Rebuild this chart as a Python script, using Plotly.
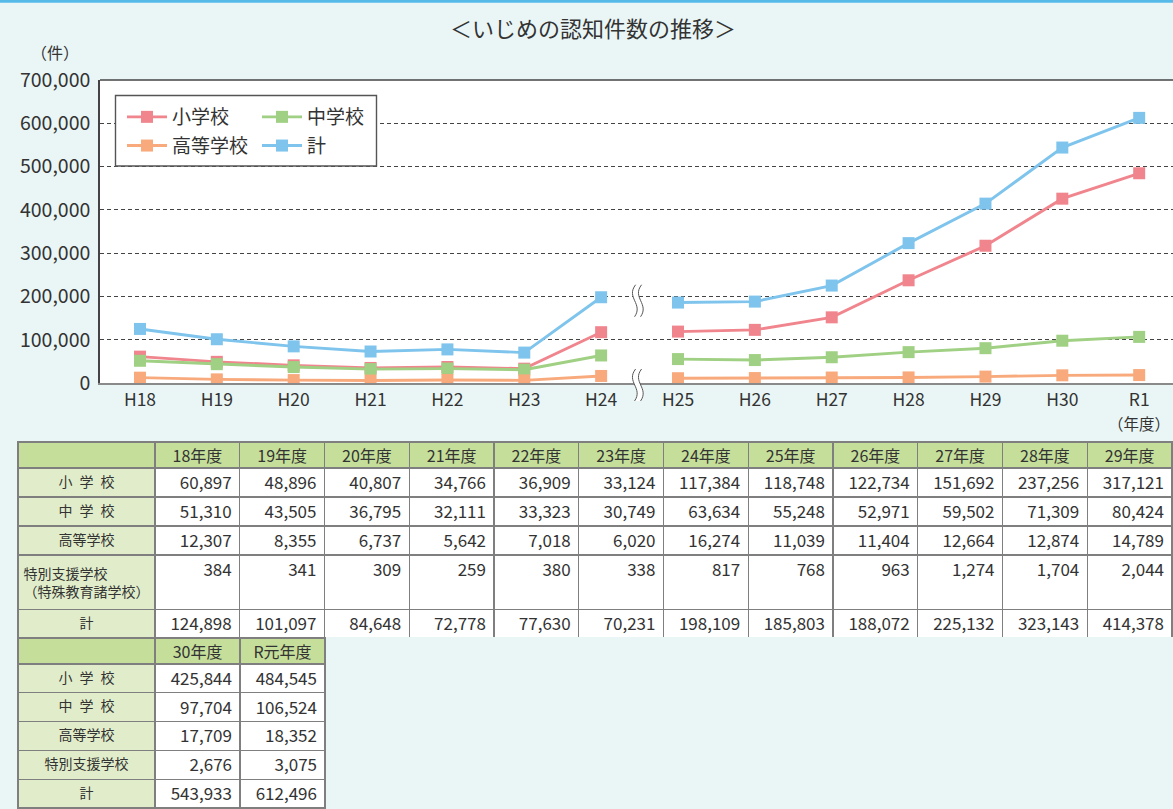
import plotly.graph_objects as go

# ---------------- data ----------------
years = ["H18", "H19", "H20", "H21", "H22", "H23", "H24",
         "H25", "H26", "H27", "H28", "H29", "H30", "R1"]
table_years1 = ["18年度", "19年度", "20年度", "21年度", "22年度", "23年度",
                "24年度", "25年度", "26年度", "27年度", "28年度", "29年度"]
table_years2 = ["30年度", "R元年度"]

elementary = [60897, 48896, 40807, 34766, 36909, 33124, 117384,
              118748, 122734, 151692, 237256, 317121, 425844, 484545]
junior = [51310, 43505, 36795, 32111, 33323, 30749, 63634,
          55248, 52971, 59502, 71309, 80424, 97704, 106524]
high = [12307, 8355, 6737, 5642, 7018, 6020, 16274,
        11039, 11404, 12664, 12874, 14789, 17709, 18352]
special = [384, 341, 309, 259, 380, 338, 817,
           768, 963, 1274, 1704, 2044, 2676, 3075]
total = [124898, 101097, 84648, 72778, 77630, 70231, 198109,
         185803, 188072, 225132, 323143, 414378, 543933, 612496]

series_names = ["小学校", "中学校", "高等学校", "計"]
series_colors = ["#F0858D", "#A0D083", "#F8AA7C", "#7EC4EC"]
row_labels1 = ["小\u2002学\u2002校", "中\u2002学\u2002校", "高等学校",
               "特別支援学校<br>（特殊教育諸学校）", "計"]
row_labels2 = ["小\u2002学\u2002校", "中\u2002学\u2002校", "高等学校",
               "特別支援学校", "計"]
break_after = 6  # series break between H24 and H25

# ---------------- layout geometry ----------------
W, H = 1173, 809
FONT = "Noto Sans CJK JP"
TXT = "#333333"
BG = "#EAF6F6"
plot_l, plot_r, plot_t, plot_b = 100, 1173, 80, 383
xmin, xmax = -0.52, 13.44

def px_x(px):
    return px / W

def px_y(py):
    return 1 - py / H

fig = go.Figure()

xs = list(range(len(years)))
gap_x = break_after + 0.5
legend_of = ["legend", "legend2", "legend", "legend2"]
for name, vals, col, lg in zip(series_names, [elementary, junior, high, total],
                               series_colors, legend_of):
    x = xs[:break_after + 1] + [gap_x] + xs[break_after + 1:]
    y = vals[:break_after + 1] + [None] + vals[break_after + 1:]
    fig.add_trace(go.Scatter(
        x=x, y=y, name=name, mode="lines+markers",
        line=dict(color=col, width=2.9),
        marker=dict(symbol="square", size=12, color=col),
        connectgaps=False, legend=lg, legendgroup=name,
    ))

def fmt(v):
    return f"{v:,}"

all_rows = [elementary, junior, high, special, total]
LINE = dict(color="#7F7F7F", width=1.2)

# table 1
n1 = len(table_years1)
cells1 = [row_labels1] + [[fmt(r[i]) for r in all_rows] for i in range(n1)]
fill1 = [["#E1EDCA"] * 5] + [["#FFFFFF"] * 5] * n1
fig.add_trace(go.Table(
    domain=dict(x=[px_x(18), px_x(1172)], y=[px_y(638), px_y(442)]),
    columnwidth=[137] + [84.75] * n1,
    header=dict(values=[""] + table_years1, fill_color="#C5DF9A", line=LINE,
                font=dict(family=FONT, size=16, color=TXT),
                align="center", height=26),
    cells=dict(values=cells1, fill_color=fill1, line=LINE,
               font=dict(family=FONT, size=[14] + [17] * n1, color=TXT),
               align=["center"] + ["right"] * n1, height=29),
))

# table 2
n2 = len(table_years2)
cells2 = [row_labels2] + [[fmt(r[n1 + i]) for r in all_rows] for i in range(n2)]
fill2 = [["#E1EDCA"] * 5] + [["#FFFFFF"] * 5] * n2
fig.add_trace(go.Table(
    domain=dict(x=[px_x(18), px_x(325)], y=[0, px_y(638)]),
    columnwidth=[137] + [85] * n2,
    header=dict(values=[""] + table_years2, fill_color="#C5DF9A", line=LINE,
                font=dict(family=FONT, size=16, color=TXT),
                align="center", height=26),
    cells=dict(values=cells2, fill_color=fill2, line=LINE,
               font=dict(family=FONT, size=[14] + [17] * n2, color=TXT),
               align=["center"] + ["right"] * n2, height=28.8),
))

shapes = []
# top blue strip
shapes.append(dict(type="rect", xref="paper", yref="paper", x0=0, x1=1,
                   y0=px_y(2.7), y1=1, fillcolor="#56BAE8", line=dict(width=0),
                   layer="above"))
# top frame line of plot
shapes.append(dict(type="line", xref="paper", yref="paper",
                   x0=px_x(plot_l), x1=1, y0=px_y(plot_t), y1=px_y(plot_t),
                   line=dict(color="#444444", width=1.6), layer="above"))
# legend box
shapes.append(dict(type="rect", xref="paper", yref="paper",
                   x0=px_x(115.5), x1=px_x(376.5), y0=px_y(166), y1=px_y(95.5),
                   fillcolor="#FFFFFF", line=dict(color="#555555", width=1.4),
                   layer="above"))

# axis break marks (wavy double lines) between H24 and H25
def data_to_px_x(v):
    return plot_l + (v - xmin) / (xmax - xmin) * (plot_r - plot_l)

def data_to_px_y(v):
    return plot_b - v / 700000 * (plot_b - plot_t)

cx = data_to_px_x(gap_x) - 2
for cy in [data_to_px_y(190000), plot_b + 2]:
    hh, off = 16, 6
    pts_l = [(cx - 2, cy - hh), (cx - 12, cy - 3), (cx + 6, cy + 3), (cx - 3, cy + hh)]
    pts_r = [(p[0] + off, p[1]) for p in pts_l]
    def P(p):
        return f"{px_x(p[0]):.5f},{px_y(p[1]):.5f}"
    path = ("M " + P(pts_l[0]) + " C " + P(pts_l[1]) + " " + P(pts_l[2]) + " " + P(pts_l[3]) +
            " L " + P(pts_r[3]) + " C " + P(pts_r[2]) + " " + P(pts_r[1]) + " " + P(pts_r[0]) + " Z")
    shapes.append(dict(type="path", xref="paper", yref="paper", path=path,
                       fillcolor="#FFFFFF", line=dict(width=0), layer="above"))
    for pts in (pts_l, pts_r):
        pth = "M " + P(pts[0]) + " C " + P(pts[1]) + " " + P(pts[2]) + " " + P(pts[3])
        shapes.append(dict(type="path", xref="paper", yref="paper", path=pth,
                           line=dict(color="#555555", width=1), layer="above"))

annotations = [
    dict(text="＜いじめの認知件数の推移＞", xref="paper", yref="paper",
         x=px_x(593), y=px_y(27), showarrow=False,
         font=dict(family=FONT, size=22, color=TXT), xanchor="center", yanchor="middle"),
    dict(text="（件）", xref="paper", yref="paper", x=px_x(55), y=px_y(52),
         showarrow=False, font=dict(family=FONT, size=16, color=TXT),
         xanchor="center", yanchor="middle"),
    dict(text="（年度）", xref="paper", yref="paper", x=px_x(1139), y=px_y(423),
         showarrow=False, font=dict(family=FONT, size=15.5, color=TXT),
         xanchor="center", yanchor="middle"),
]

legend_common = dict(bgcolor="rgba(0,0,0,0)", borderwidth=0,
                     font=dict(family=FONT, size=19, color=TXT),
                     orientation="v", tracegroupgap=1, itemwidth=40,
                     xanchor="left", yanchor="top", xref="paper", yref="paper")

fig.update_layout(
    width=W, height=H, margin=dict(l=0, r=0, t=0, b=0),
    paper_bgcolor=BG, plot_bgcolor="#FFFFFF", template="none",
    font=dict(family=FONT, color=TXT),
    showlegend=True,
    legend=dict(x=px_x(122), y=px_y(98), **legend_common),
    legend2=dict(x=px_x(257), y=px_y(98), **legend_common),
    xaxis=dict(domain=[px_x(plot_l), 1], range=[xmin, xmax],
               tickvals=xs, ticktext=years, showgrid=False, zeroline=False,
               showline=True, linecolor="#8A8A8A", linewidth=2, ticks="",
               tickfont=dict(family=FONT, size=17.5, color=TXT), automargin=False),
    yaxis=dict(domain=[px_y(plot_b), px_y(plot_t)], range=[0, 700000],
               dtick=100000, tickformat=",", showgrid=True, gridcolor="#444444",
               griddash="4px,3px", gridwidth=1, zeroline=False,
               showline=True, linecolor="#444444", linewidth=1.6, ticks="",
               ticklabelstandoff=4,
               tickfont=dict(family=FONT, size=19.5, color=TXT), automargin=False),
    shapes=shapes, annotations=annotations,
)

fig.write_html("out.html")
